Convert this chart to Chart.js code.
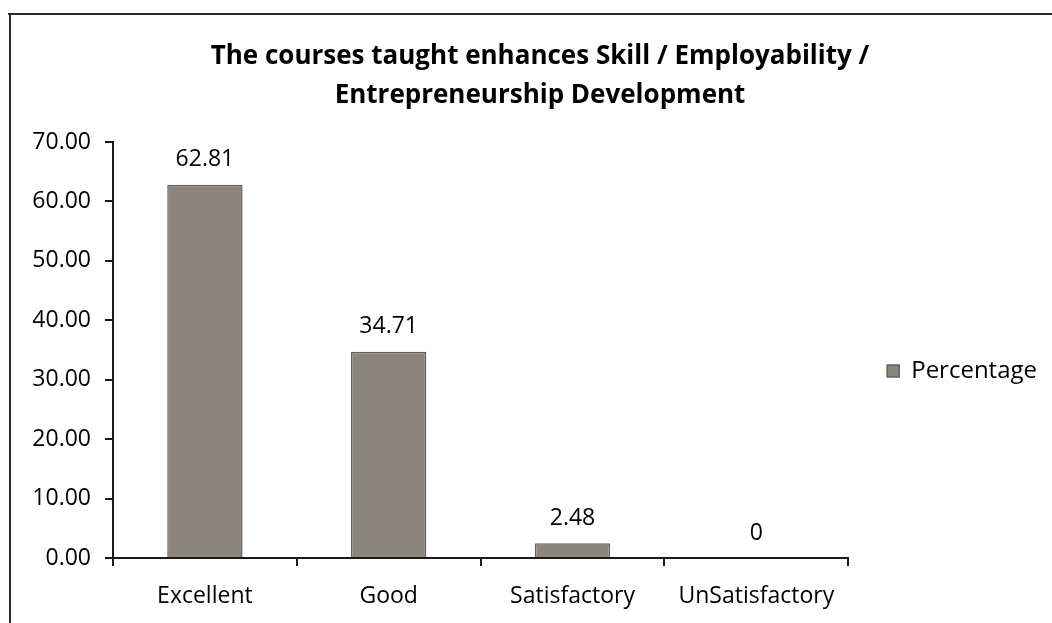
<!DOCTYPE html>
<html><head><meta charset="utf-8">
<script src="https://cdn.jsdelivr.net/npm/chart.js@4.4.1/dist/chart.umd.min.js"></script>
<style>html,body{margin:0;padding:0;background:#fff}#wrap{width:1052px;height:623px;position:relative}</style>
</head><body><div id="wrap"><canvas id="c"></canvas></div>
<script>
// ---- data ----
const categories = ['Excellent', 'Good', 'Satisfactory', 'UnSatisfactory'];
const percentages = [62.81, 34.71, 2.48, 0];
const valueLabels = ['62.81', '34.71', '2.48', '0'];
const seriesName = 'Percentage';
const titleLines = ['The courses taught enhances Skill / Employability /', 'Entrepreneurship Development'];
const yMin = 0, yMax = 70, yStep = 10;

const FONT = "'Open Sans', 'Noto Sans', sans-serif";
Chart.defaults.font.family = FONT;
Chart.defaults.color = '#000';

const framePlugin = {
  id: 'frame',
  beforeDraw(chart) {
    const ctx = chart.ctx;
    ctx.save();
    ctx.fillStyle = '#ffffff';
    ctx.fillRect(0, 0, chart.width, chart.height);
    ctx.strokeStyle = '#2b2b2b';
    ctx.lineWidth = 2;
    ctx.beginPath();
    ctx.moveTo(8, 14); ctx.lineTo(chart.width, 14);
    ctx.moveTo(10, 14); ctx.lineTo(10, chart.height);
    ctx.stroke();
    ctx.restore();
  }
};

const legendShift = {
  id: 'legendShift',
  afterLayout(chart) {
    const lg = chart.legend;
    if (lg) { lg.top += 21; lg.bottom += 21; }
  }
};

const valueLabelPlugin = {
  id: 'valueLabels',
  afterDatasetsDraw(chart) {
    const ctx = chart.ctx;
    const meta = chart.getDatasetMeta(0);
    ctx.save();
    ctx.font = "23px " + FONT;
    ctx.fillStyle = '#000';
    ctx.textAlign = 'center';
    ctx.textBaseline = 'middle';
    meta.data.forEach((bar, i) => {
      ctx.fillText(valueLabels[i], bar.x, bar.y - 25);
    });
    ctx.restore();
  }
};

new Chart(document.getElementById('c'), {
  type: 'bar',
  data: {
    labels: categories,
    datasets: [{
      label: seriesName,
      data: percentages,
      backgroundColor: '#8b857d',
      borderColor: '#675f58',
      borderWidth: 1.5,
      categoryPercentage: 1.0,
      barPercentage: 0.41
    }]
  },
  options: {
    responsive: true,
    maintainAspectRatio: false,
    animation: false,
    layout: { padding: { left: 33, right: 5, top: 0, bottom: 14 } },
    plugins: {
      title: {
        display: true,
        text: titleLines,
        color: '#000',
        font: { size: 26, weight: 'bold', lineHeight: 1.5 },
        padding: { top: 37, bottom: 27 }
      },
      legend: {
        display: true,
        position: 'right',
        fullSize: false,
        labels: {
          boxWidth: 12, boxHeight: 12, padding: 39,
          color: '#000',
          font: { size: 24 }
        }
      },
      tooltip: { enabled: false }
    },
    scales: {
      x: {
        afterFit(scale) { scale.height = 51; },
        grid: { offset: true, drawOnChartArea: false, drawTicks: true, tickLength: 8, color: '#1a1a1a', lineWidth: 2 },
        border: { color: '#1a1a1a', width: 2 },
        ticks: { padding: 17, color: '#000', font: { size: 23 }, maxRotation: 0 }
      },
      y: {
        min: yMin, max: yMax,
        afterFit(scale) { scale.width = 80; },
        grid: { drawOnChartArea: false, drawTicks: true, tickLength: 8, color: '#1a1a1a', lineWidth: 2 },
        border: { color: '#1a1a1a', width: 2 },
        ticks: { stepSize: yStep, padding: 14, color: '#000', font: { size: 23 }, callback: v => Number(v).toFixed(2) }
      }
    }
  },
  plugins: [framePlugin, legendShift, valueLabelPlugin]
});
</script></body></html>
